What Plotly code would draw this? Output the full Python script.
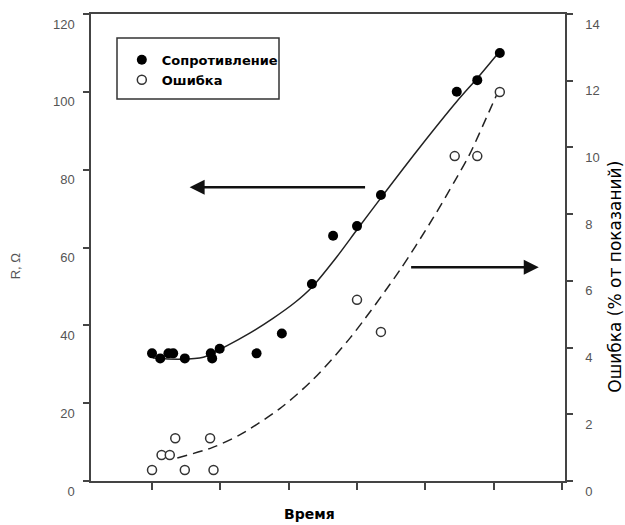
import plotly.graph_objects as go

# Measured data (time in arbitrary units)
res_time = [1.00, 1.12, 1.24, 1.31, 1.48, 1.86, 1.88, 1.99, 2.53, 2.90, 3.34, 3.65, 4.00, 4.35, 5.46, 5.76, 6.09]
res_value = [32.8, 31.5, 32.8, 32.8, 31.5, 32.8, 31.5, 34.0, 32.8, 37.9, 50.6, 63.0, 65.5, 73.5, 100.0, 103.0, 110.0]

err_time = [1.00, 1.14, 1.26, 1.34, 1.48, 1.85, 1.90, 4.00, 4.35, 5.43, 5.76, 6.09]
err_value = [0.33, 0.78, 0.78, 1.28, 0.33, 1.28, 0.33, 5.43, 4.47, 9.74, 9.74, 11.66]

# Trend curves
res_fit_time = [1.01, 1.40, 1.75, 2.10, 2.43, 2.77, 3.10, 3.34, 3.70, 4.01, 4.37, 4.90, 5.46, 5.76, 6.06]
res_fit_value = [31.6, 31.3, 31.8, 34.8, 38.0, 41.8, 46.0, 49.8, 57.5, 64.8, 73.2, 85.3, 97.5, 103.5, 109.8]

err_fit_time = [1.37, 1.88, 2.29, 2.87, 3.36, 3.90, 4.63, 5.11, 5.43, 5.65, 5.95, 6.06]
err_fit_value = [0.69, 1.00, 1.39, 2.17, 3.05, 4.29, 6.33, 7.87, 8.99, 9.80, 11.15, 11.65]

x_ticks = [1, 2, 3, 4, 5, 6, 7]
left_ticks = [0, 20, 40, 60, 80, 100, 120]
right_ticks = [0, 2, 4, 6, 8, 10, 12, 14]

TXT = "Liberation Sans"
BOLD = "DejaVu Sans"
AX = "#444444"
TICKC = "#555555"

fig = go.Figure()

fig.add_trace(go.Scatter(x=res_fit_time, y=res_fit_value, mode="lines",
                         line=dict(color="#222222", width=1.5, shape="spline", smoothing=0.8),
                         showlegend=False, hoverinfo="skip", yaxis="y"))
fig.add_trace(go.Scatter(x=err_fit_time, y=err_fit_value, mode="lines",
                         line=dict(color="#222222", width=1.5, dash="10px,6px", shape="spline", smoothing=0.8),
                         showlegend=False, hoverinfo="skip", yaxis="y2"))
fig.add_trace(go.Scatter(x=res_time, y=res_value, mode="markers", name="Сопротивление",
                         marker=dict(color="black", size=10, line=dict(width=0)), yaxis="y"))
fig.add_trace(go.Scatter(x=err_time, y=err_value, mode="markers", name="Ошибка",
                         marker=dict(color="white", size=9, line=dict(color="#333333", width=1.5)), yaxis="y2"))

fig.update_layout(
    width=625, height=525,
    margin=dict(l=91, r=60, t=14, b=44),
    paper_bgcolor="white", plot_bgcolor="white",
    font=dict(family=TXT, color="black"),
    xaxis=dict(range=[0.107, 7.044], tickvals=x_ticks, showticklabels=False, ticks="outside", ticklen=7,
               tickcolor=AX, tickwidth=1.5, showline=True, linecolor=AX, linewidth=1.5, mirror=True,
               showgrid=False, zeroline=False),
    yaxis=dict(range=[0, 120], tickvals=left_ticks, ticks="outside", ticklen=6, tickcolor=AX, tickwidth=1.5,
               showline=True, linecolor=AX, linewidth=1.5, showgrid=False, zeroline=False,
               tickfont=dict(size=13, color=TICKC), ticklabelstandoff=6, ticklabelshift=10,
               ticklabeloverflow="allow"),
    yaxis2=dict(range=[0, 14], tickvals=right_ticks, overlaying="y", side="right", ticks="outside", ticklen=6,
                tickcolor=AX, tickwidth=1.5, showline=True, linecolor=AX, linewidth=1.5, showgrid=False,
                zeroline=False, tickfont=dict(size=13, color=TICKC), ticklabelstandoff=10, ticklabelshift=10,
                ticklabeloverflow="allow"),
    legend=dict(x=0.065, y=0.934, xanchor="left", yanchor="top", borderwidth=0,
                bgcolor="rgba(0,0,0,0)", font=dict(size=13, color="black", family=BOLD, weight="bold"),
                itemwidth=30, tracegroupgap=2),
    showlegend=True,
)

# Legend frame
fig.add_shape(type="rect", xref="paper", yref="paper", x0=(117 - 91) / 474, x1=(279 - 91) / 474,
              y0=1 - (99 - 14) / 467, y1=1 - (38 - 14) / 467,
              line=dict(color="#333333", width=1.5), fillcolor="white", layer="below")

# Arrows
fig.add_annotation(x=1.55, y=75.5, ax=4.14, ay=75.5, xref="x", yref="y", axref="x", ayref="y",
                   text="", showarrow=True, arrowhead=2, arrowsize=1.2, arrowwidth=2.5, arrowcolor="#111111")
fig.add_annotation(x=6.66, y=6.41, ax=4.77, ay=6.41, xref="x", yref="y2", axref="x", ayref="y2",
                   text="", showarrow=True, arrowhead=2, arrowsize=1.2, arrowwidth=2.5, arrowcolor="#111111")

# Axis titles
fig.add_annotation(x=-0.160, y=0.46, xref="paper", yref="paper", text="R, Ω", textangle=-90, showarrow=False,
                   xanchor="center", yanchor="middle", font=dict(size=13, color=TICKC, family=TXT))
fig.add_annotation(x=1.105, y=0.437, xref="paper", yref="paper", text="Ошибка (% от показаний)", textangle=-90,
                   xanchor="center", yanchor="middle", showarrow=False,
                   font=dict(size=17, color="black", family=BOLD))
fig.add_annotation(x=0.462, y=-0.070, xref="paper", yref="paper", text="Время", showarrow=False,
                   xanchor="center", yanchor="middle",
                   font=dict(size=14, color="black", family=BOLD, weight="bold"))

fig.write_html("out.html", post_script="document.body.style.margin='0';",
               config={"displayModeBar": False})
